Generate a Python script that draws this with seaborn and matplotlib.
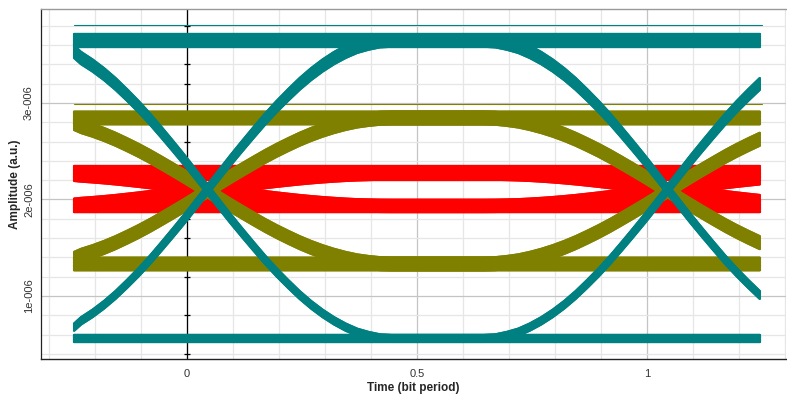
import itertools
import numpy as np
import pandas as pd
import matplotlib
matplotlib.use("Agg")
import matplotlib.pyplot as plt
import seaborn as sns
from matplotlib.ticker import MultipleLocator

# Style
sns.set_style("white")
plt.rcParams["font.family"] = ["Liberation Sans", "DejaVu Sans"]

# eye crossings and shown window (bit periods)
CROSSINGS = [0.045, 1.045]
T_START, T_END = -0.245, 1.25
STEP = 0.025

# rising edge: fraction of the swing reached 0, 0.025, ..., 0.4 bit after a crossing
EDGE_HALF = [0.500, 0.549, 0.598, 0.645, 0.691, 0.736, 0.778, 0.817, 0.854,
             0.887, 0.916, 0.941, 0.962, 0.979, 0.990, 0.998, 1.000]

SIGNALS = ["small", "medium", "large"]
COLORS = {"small": "#ff0000", "medium": "#808000", "large": "#008080"}

# levels, in 1e-6 a.u.
LOW_LEVEL = {"small": 1.943, "medium": 1.332, "large": 0.560}
HIGH_LEVEL = {"small": 2.264, "medium": 2.845, "large": 3.648}

# spread of the single traces around each level (1e-6 a.u.)
LOW_SPREAD = {
    "small": [-0.072, -0.058, -0.044, -0.030, -0.016, -0.002, 0.012, 0.026, 0.040, 0.052],
    "medium": [-0.066, -0.050, -0.036, -0.020, -0.006, 0.008, 0.022, 0.038, 0.052, 0.066],
    "large": [-0.035, -0.027, -0.020, -0.012, -0.004, 0.004, 0.012, 0.020, 0.027, 0.035],
}
HIGH_SPREAD = {
    "small": [-0.058, -0.044, -0.030, -0.016, -0.002, 0.012, 0.028, 0.044, 0.060, 0.078],
    "medium": [-0.066, -0.052, -0.036, -0.022, -0.008, 0.006, 0.020, 0.036, 0.050, 0.066],
    "large": [-0.064, -0.050, -0.036, -0.022, -0.008, 0.006, 0.020, 0.034, 0.050, 0.064],
}

# a few stray flat traces above the top rails (1e-6 a.u.)
STRAY_LEVEL = {"medium": 2.99, "large": 3.81}


steps = np.arange(-12, 49)
time = np.clip(CROSSINGS[0] + STEP * steps, T_START, T_END)
half = np.array(EDGE_HALF)
edge = np.concatenate([1 - half[:0:-1], half])
n_half = len(half) - 1
span = int(round((CROSSINGS[1] - CROSSINGS[0]) / STEP))


def edge_at(idx):
    return np.where(idx < -n_half, 0.0,
                    np.where(idx > n_half, 1.0, edge[np.clip(idx + n_half, 0, 2 * n_half)]))


p1 = edge_at(steps)
p2 = edge_at(steps - span)

rows = []
trace_id = 0
for sig in SIGNALS:
    for bits in itertools.product([0, 1], repeat=3):
        for lo, hi in zip(LOW_SPREAD[sig], HIGH_SPREAD[sig]):
            v = [LOW_LEVEL[sig] + lo if b == 0 else HIGH_LEVEL[sig] + hi for b in bits]
            amp = v[0] + (v[1] - v[0]) * p1 + (v[2] - v[1]) * p2
            rows.append(pd.DataFrame({"time": time, "amplitude": amp * 1e-6,
                                      "signal": sig, "trace": trace_id}))
            trace_id += 1
df = pd.concat(rows, ignore_index=True)

stray = pd.concat([pd.DataFrame({"time": [T_START, T_END],
                                 "amplitude": [lvl * 1e-6] * 2,
                                 "signal": sig})
                   for sig, lvl in STRAY_LEVEL.items()], ignore_index=True)

fig = plt.figure(figsize=(7.87, 3.97), dpi=100)
ax = fig.add_axes([41 / 787, 38 / 397, 745 / 787, 350 / 397])

sns.lineplot(data=stray, x="time", y="amplitude", hue="signal", palette=COLORS,
             lw=0.8, legend=False, ax=ax, estimator=None)
sns.lineplot(data=df, x="time", y="amplitude", hue="signal", hue_order=SIGNALS,
             palette=COLORS, units="trace", estimator=None, sort=False,
             lw=1.7, legend=False, ax=ax)

ax.set_xlim(-0.317, 1.302)
ax.set_ylim(0.347e-6, 3.974e-6)

ax.set_xticks([0, 0.5, 1], labels=["0", "0.5", "1"])
ax.xaxis.set_minor_locator(MultipleLocator(0.1))
ax.set_yticks([1e-6, 2e-6, 3e-6], labels=["1e-006", "2e-006", "3e-006"])
ax.yaxis.set_minor_locator(MultipleLocator(0.2e-6))

ax.set_axisbelow(True)
ax.grid(which="minor", color="#e6e6e6", lw=0.9)
ax.grid(which="major", color="#c4c4c4", lw=0.9)

ax.axvline(0, color="black", lw=0.9, zorder=1.5)
ymin = [y for y in ax.yaxis.get_minorticklocs() if 0.347e-6 < y < 3.974e-6]
ax.plot(np.zeros(len(ymin)), ymin, ls="none", marker="_", ms=5, mew=0.9,
        color="black", zorder=1.6)

ax.spines["right"].set_visible(False)
ax.spines["left"].set_color("#222222")
ax.spines["left"].set_linewidth(0.9)
ax.spines["bottom"].set_color("#222222")
ax.spines["bottom"].set_linestyle((0, (1, 1)))
ax.spines["bottom"].set_linewidth(1.0)
ax.spines["top"].set_color("#999999")
ax.spines["top"].set_linestyle((0, (1, 1)))
ax.spines["top"].set_linewidth(1.0)

ax.tick_params(axis="x", which="both", direction="inout", length=4, width=0.9,
               color="#222222", labelsize=8, labelcolor="#333333", pad=5)
ax.tick_params(axis="y", which="major", direction="out", length=5, width=0.9,
               color="#222222", labelsize=8, labelcolor="#333333", pad=0)
ax.tick_params(axis="y", which="minor", direction="out", length=3, width=0.9,
               color="#222222")
for lab in ax.get_yticklabels():
    lab.set_rotation(90)
    lab.set_va("center")

ax.set_xlabel("Time (bit period)", fontsize=8.5, fontweight="bold", labelpad=2)
ax.set_ylabel("Amplitude (a.u.)", fontsize=8.5, fontweight="bold", labelpad=2)

plt.savefig("out.png", dpi=100)
